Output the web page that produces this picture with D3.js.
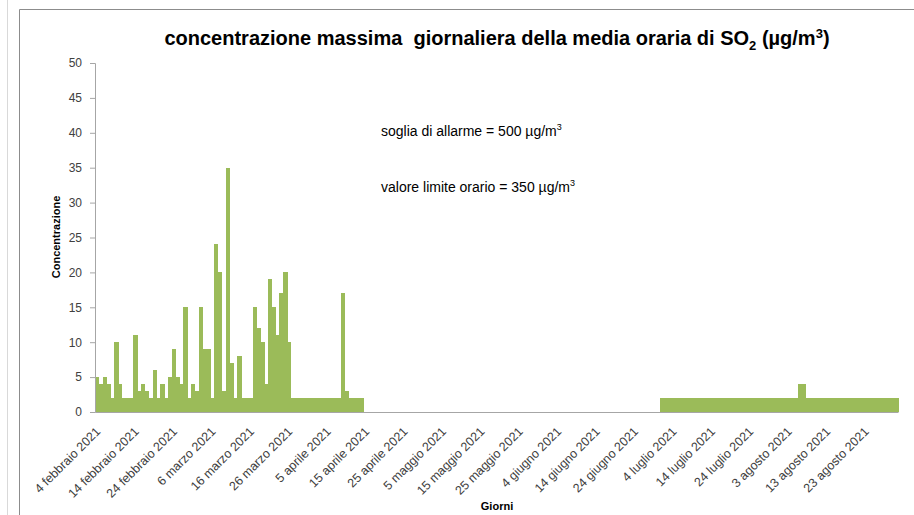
<!DOCTYPE html>
<html>
<head>
<meta charset="utf-8">
<script src="https://cdn.jsdelivr.net/npm/d3@7"></script>
<style>
body { margin: 0; background: #fff; }
svg text { font-family: "Liberation Sans", Arial, sans-serif; }
</style>
</head>
<body>
<div id="grafico"></div>
<script>
// mesi in italiano per le etichette
var mesi = ["gennaio", "febbraio", "marzo", "aprile", "maggio", "giugno",
    "luglio", "agosto", "settembre", "ottobre", "novembre", "dicembre"];

// giorni dal 4 febbraio al 31 agosto 2021
var giorni = d3.timeDay.range(new Date(2021, 1, 4), new Date(2021, 8, 1));

// valori dal 4 febbraio (70 giorni)
var valoriFebApr = [5, 4, 5, 4, 2, 10, 4, 2, 2, 2,
    11, 3, 4, 3, 2, 6, 2, 4, 2, 5,
    9, 5, 4, 15, 2, 4, 3, 15, 9, 9,
    2, 24, 20, 3, 35, 7, 2, 8, 2, 2,
    2, 15, 12, 10, 4, 19, 15, 11, 17, 20,
    10, 2, 2, 2, 2, 2, 2, 2, 2, 2,
    2, 2, 2, 2, 17, 3, 2, 2, 2, 2];

// valori dal 1 luglio (62 giorni)
var valoriLugAgo = [2, 2, 2, 2, 2, 2, 2, 2, 2, 2,
    2, 2, 2, 2, 2, 2, 2, 2, 2, 2,
    2, 2, 2, 2, 2, 2, 2, 2, 2, 2,
    2, 2, 2, 2, 2, 2, 4, 4, 2, 2,
    2, 2, 2, 2, 2, 2, 2, 2, 2, 2,
    2, 2, 2, 2, 2, 2, 2, 2, 2, 2,
    2, 2];

var inizioFebApr = new Date(2021, 1, 4);
var inizioLugAgo = new Date(2021, 6, 1);

var yTicks = [0, 5, 10, 15, 20, 25, 30, 35, 40, 45, 50];

var w = 914, h = 515;

var dati = valoriFebApr.map(function(v, i) {
    return { giorno: d3.timeDay.offset(inizioFebApr, i), valore: v };
}).concat(valoriLugAgo.map(function(v, i) {
    return { giorno: d3.timeDay.offset(inizioLugAgo, i), valore: v };
}));

function etichetta(d) {
    return d.getDate() + " " + mesi[d.getMonth()] + " " + d.getFullYear();
}

var svg = d3.select("#grafico").append("svg")
    .attr("width", w)
    .attr("height", h);

svg.append("rect")
    .attr("width", w).attr("height", h)
    .attr("fill", "#fff");

// cornici
svg.append("line")
    .attr("x1", 7.5).attr("x2", 7.5).attr("y1", 0).attr("y2", h)
    .attr("stroke", "#d9d9d9");
svg.append("path")
    .attr("d", "M19.5," + h + "V9.5H" + w)
    .attr("fill", "none")
    .attr("stroke", "#8c8c8c");

var x = d3.scaleBand()
    .domain(giorni.map(function(d) { return +d; }))
    .range([95, 898])
    .padding(0);

var y = d3.scaleLinear()
    .domain([0, 50])
    .range([412, 63]);

// barre
svg.append("g")
    .attr("class", "barre")
    .attr("shape-rendering", "crispEdges")
    .selectAll("rect")
    .data(dati)
    .enter().append("rect")
    .attr("x", function(d) { return x(+d.giorno); })
    .attr("width", x.bandwidth() + 0.5)
    .attr("y", function(d) { return y(d.valore); })
    .attr("height", function(d) { return y(0) - y(d.valore); })
    .attr("fill", "#9bbb59");

// asse y
var assey = svg.append("g")
    .attr("transform", "translate(95,0)")
    .call(d3.axisLeft(y).tickValues(yTicks).tickSize(5).tickPadding(8));
assey.select(".domain").attr("stroke", "#a6a6a6");
assey.selectAll(".tick line").attr("stroke", "#a6a6a6");
assey.selectAll(".tick text")
    .attr("fill", "#404040")
    .style("font-size", "12px");

// asse x
var assex = svg.append("g")
    .attr("transform", "translate(0,412)")
    .call(d3.axisBottom(x)
        .tickValues(giorni.filter(function(d, i) { return i % 10 == 0; }).map(function(d) { return +d; }))
        .tickSize(0)
        .tickFormat(function(d) { return etichetta(new Date(d)); }));
assex.select(".domain").attr("stroke", "#a6a6a6");
assex.selectAll(".tick text")
    .attr("fill", "#404040")
    .style("font-size", "12.5px")
    .attr("text-anchor", "end")
    .attr("transform", "translate(-1,15) rotate(-45)")
    .attr("dy", "0.35em");

// titoli
var titolo = svg.append("text")
    .attr("x", 497).attr("y", 45)
    .attr("text-anchor", "middle")
    .style("font-size", "20px")
    .style("font-weight", "bold")
    .attr("fill", "#000");
titolo.append("tspan").text("concentrazione massima\u00a0 giornaliera della media oraria di SO");
titolo.append("tspan").attr("dy", 5).style("font-size", "13px").text("2");
titolo.append("tspan").attr("dy", -5).text(" (\u00b5g/m");
titolo.append("tspan").attr("dy", -7).style("font-size", "13px").text("3");
titolo.append("tspan").attr("dy", 7).text(")");

svg.append("text")
    .attr("transform", "translate(60,237) rotate(-90)")
    .attr("text-anchor", "middle")
    .style("font-size", "11px")
    .style("font-weight", "bold")
    .text("Concentrazione");

svg.append("text")
    .attr("x", 497).attr("y", 510)
    .attr("text-anchor", "middle")
    .style("font-size", "11px")
    .style("font-weight", "bold")
    .text("Giorni");

// note sulle soglie
function nota(yy, testo) {
    var t = svg.append("text")
        .attr("x", 381).attr("y", yy)
        .style("font-size", "14px")
        .attr("fill", "#000");
    t.append("tspan").text(testo);
    t.append("tspan").attr("dy", -6).style("font-size", "9px").text("3");
}
nota(136, "soglia di allarme = 500 \u00b5g/m");
nota(192, "valore limite orario = 350 \u00b5g/m");
</script>
</body>
</html>
